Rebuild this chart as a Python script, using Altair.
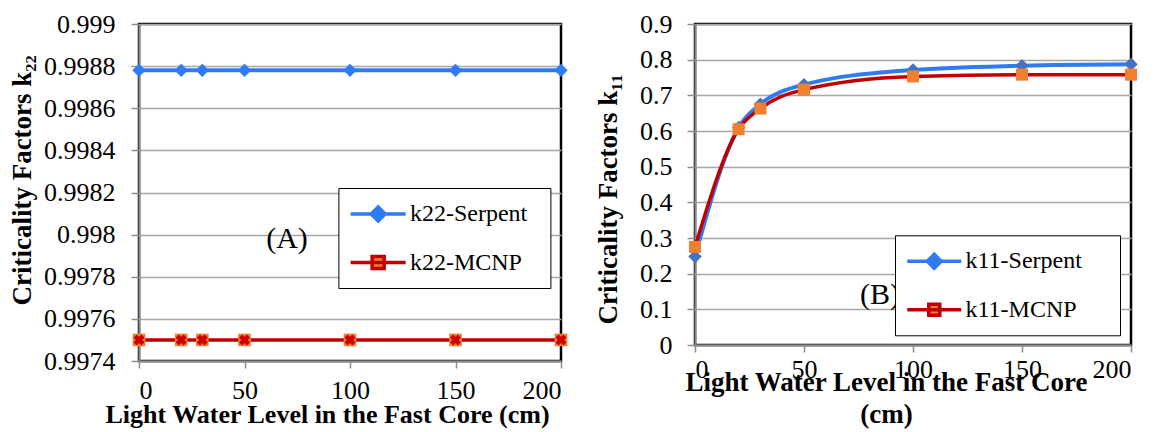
import altair as alt
import pandas as pd

# ---------------- data ----------------
water_level = [0, 20, 30, 50, 100, 150, 200]

k22_serpent = [0.99878, 0.99878, 0.99878, 0.99878, 0.99878, 0.99878, 0.99878]
k22_mcnp = [0.99750, 0.99750, 0.99750, 0.99750, 0.99750, 0.99750, 0.99750]

k11_serpent = [0.248, 0.610, 0.675, 0.730, 0.771, 0.783, 0.787]
k11_mcnp = [0.275, 0.605, 0.663, 0.716, 0.753, 0.758, 0.758]

left_series = ["k22-Serpent", "k22-MCNP"]
right_series = ["k11-Serpent", "k11-MCNP"]
panel_tags = ["(A)", "(B)"]

x_ticks = [0, 50, 100, 150, 200]
left_y_ticks = [0.9974, 0.9976, 0.9978, 0.998, 0.9982, 0.9984, 0.9986, 0.9988, 0.999]
right_y_ticks = [0, 0.1, 0.2, 0.3, 0.4, 0.5, 0.6, 0.7, 0.8, 0.9]

FONT = "Liberation Serif"
BLUE_LINE = "#2F7BF5"
RED_LINE = "#C00000"
ORANGE = "#F08030"
STEEL = "#4472C4"
GRID = "#A6A6A6"
AXIS_GRAY = "#8C8C8C"

# legend symbol glyphs: a line segment with the series marker on it
# (the bare M moves only widen the legend box, nothing is drawn there)
LEFT_PATHS = [
    "M-1.356,0M13.9,0M-1.146,0L3.437,0M1.146,-0.58L1.726,0L1.146,0.58L0.566,0Z",
    "M-1.356,0M13.9,0M-1.146,0L3.437,0M0.646,-0.5L1.646,-0.5L1.646,0.5L0.646,0.5Z",
]
RIGHT_PATHS = [
    "M-2.0,0M15.0,0M-1.146,0L3.354,0M1.104,-0.58L1.684,0L1.104,0.58L0.524,0Z",
    "M-2.0,0M15.0,0M-1.146,0L3.354,0M0.644,-0.46L1.564,-0.46L1.564,0.46L0.644,0.46Z",
]


def long_df(names, s_vals, m_vals, key):
    return pd.DataFrame({
        "x": water_level + water_level,
        "y": s_vals + m_vals,
        key: [names[0]] * len(water_level) + [names[1]] * len(water_level),
    })


def legend_layer(base, key, names, fills, strokes, paths, lx, ly, label_offset):
    leg = alt.Legend(
        title=None, orient="none", legendX=lx, legendY=ly,
        strokeColor="black", fillColor="white", padding=12,
        rowPadding=20.5, labelFont=FONT, labelFontSize=24,
        labelColor="black", labelOffset=label_offset, symbolSize=576,
        symbolStrokeWidth=3.5, labelLimit=400,
    )
    return base.transform_filter("false").mark_point(
        filled=True, opacity=1, size=576, strokeWidth=3.5
    ).encode(
        color=alt.Color(f"{key}:N", scale=alt.Scale(domain=names, range=fills), legend=leg),
        stroke=alt.Stroke(f"{key}:N", scale=alt.Scale(domain=names, range=strokes), legend=leg),
        shape=alt.Shape(f"{key}:N", scale=alt.Scale(domain=names, range=paths), legend=leg),
    )


def tag_layer(tag, px, py):
    return alt.Chart(pd.DataFrame({"tag": [tag]})).mark_text(
        font=FONT, fontSize=30, fontWeight="normal", color="black"
    ).encode(text="tag:N", x=alt.value(px), y=alt.value(py))


# ---------------- left panel (A) ----------------
dfL = long_df(left_series, k22_serpent, k22_mcnp, "seriesA")
baseL = alt.Chart(dfL)
xL = alt.X("x:Q", scale=alt.Scale(domain=[0, 200], nice=False),
           axis=alt.Axis(values=x_ticks, title="Light Water Level in the Fast Core (cm)",
                         titleFontSize=26, titleX=188, titleY=40, titleBaseline="top",
                         labelPadding=9, grid=False))
yL = alt.Y("y:Q", scale=alt.Scale(domain=[0.9974, 0.999], nice=False, zero=False),
           axis=alt.Axis(values=left_y_ticks, format=".4~f", title="Criticality Factors  k₂₂",
                         titleX=-117, titleY=156, titleBaseline="middle", labelPadding=16,
                         tickSize=8, grid=True))

sL = baseL.transform_filter(alt.datum.seriesA == left_series[0])
mL = baseL.transform_filter(alt.datum.seriesA == left_series[1])

left = alt.layer(
    sL.mark_line(color=BLUE_LINE, strokeWidth=4).encode(x=xL, y=yL),
    sL.mark_point(shape="diamond", filled=True, color=BLUE_LINE, size=180, opacity=1).encode(x=xL, y=yL),
    mL.mark_line(color=RED_LINE, strokeWidth=3.5).encode(x=xL, y=yL),
    mL.mark_point(shape="square", filled=True, color=ORANGE, size=160, opacity=1).encode(x=xL, y=yL),
    mL.mark_point(shape="cross", angle=45, filled=True, color="#D00000", size=125, opacity=1).encode(x=xL, y=yL),
    tag_layer(panel_tags[0], 148, 215),
    legend_layer(baseL, "seriesA", left_series, [BLUE_LINE, ORANGE], [BLUE_LINE, RED_LINE],
                 LEFT_PATHS, 199.4, 164, 31.5),
).properties(width=422, height=337)

# ---------------- right panel (B) ----------------
dfR = long_df(right_series, k11_serpent, k11_mcnp, "seriesB")
baseR = alt.Chart(dfR)
xR = alt.X("x:Q", scale=alt.Scale(domain=[0, 200], nice=False),
           axis=alt.Axis(values=x_ticks, title=["Light Water Level in the Fast Core", "(cm)"],
                         titleX=191, titleY=24, titleBaseline="top", titleLineHeight=32,
                         labelPadding=4, grid=False))
yR = alt.Y("y:Q", scale=alt.Scale(domain=[0, 0.9], nice=False, zero=True),
           axis=alt.Axis(values=right_y_ticks, format=".1~f", title="Criticality Factors  k₁₁",
                         titleX=-87, titleY=175, titleBaseline="middle", labelPadding=15,
                         tickSize=8, grid=True))

sR = baseR.transform_filter(alt.datum.seriesB == right_series[0])
mR = baseR.transform_filter(alt.datum.seriesB == right_series[1])

right = alt.layer(
    sR.mark_line(color=BLUE_LINE, strokeWidth=4, interpolate="monotone").encode(x=xR, y=yR),
    sR.mark_point(shape="diamond", filled=True, color=STEEL, size=180, opacity=1).encode(x=xR, y=yR),
    mR.mark_line(color=RED_LINE, strokeWidth=3.5, interpolate="monotone").encode(x=xR, y=yR),
    mR.mark_point(shape="square", filled=True, color=ORANGE, size=144, opacity=1).encode(x=xR, y=yR),
    tag_layer(panel_tags[1], 185, 271),
    legend_layer(baseR, "seriesB", right_series, [STEEL, ORANGE], [BLUE_LINE, RED_LINE],
                 RIGHT_PATHS, 200, 211.3, 30.5),
).properties(width=436, height=321)

chart = alt.hconcat(left, right, spacing=21).properties(
    padding={"left": 6, "top": 9, "right": 0, "bottom": 0},
    background="white",
).resolve_scale(
    color="independent", shape="independent", stroke="independent"
).resolve_legend(
    color="independent", shape="independent", stroke="independent"
).configure_view(
    stroke="black", strokeWidth=2.5
).configure_axis(
    labelFont=FONT, labelFontSize=26, labelColor="black",
    titleFont=FONT, titleFontSize=27, titleFontWeight="bold", titleColor="black",
    domainColor=AXIS_GRAY, domainWidth=2, tickColor=AXIS_GRAY, tickWidth=1.5, tickSize=7,
    gridColor=GRID, gridWidth=1.5,
)

chart.save("out.html", embed_options={"renderer": "svg", "actions": False})
